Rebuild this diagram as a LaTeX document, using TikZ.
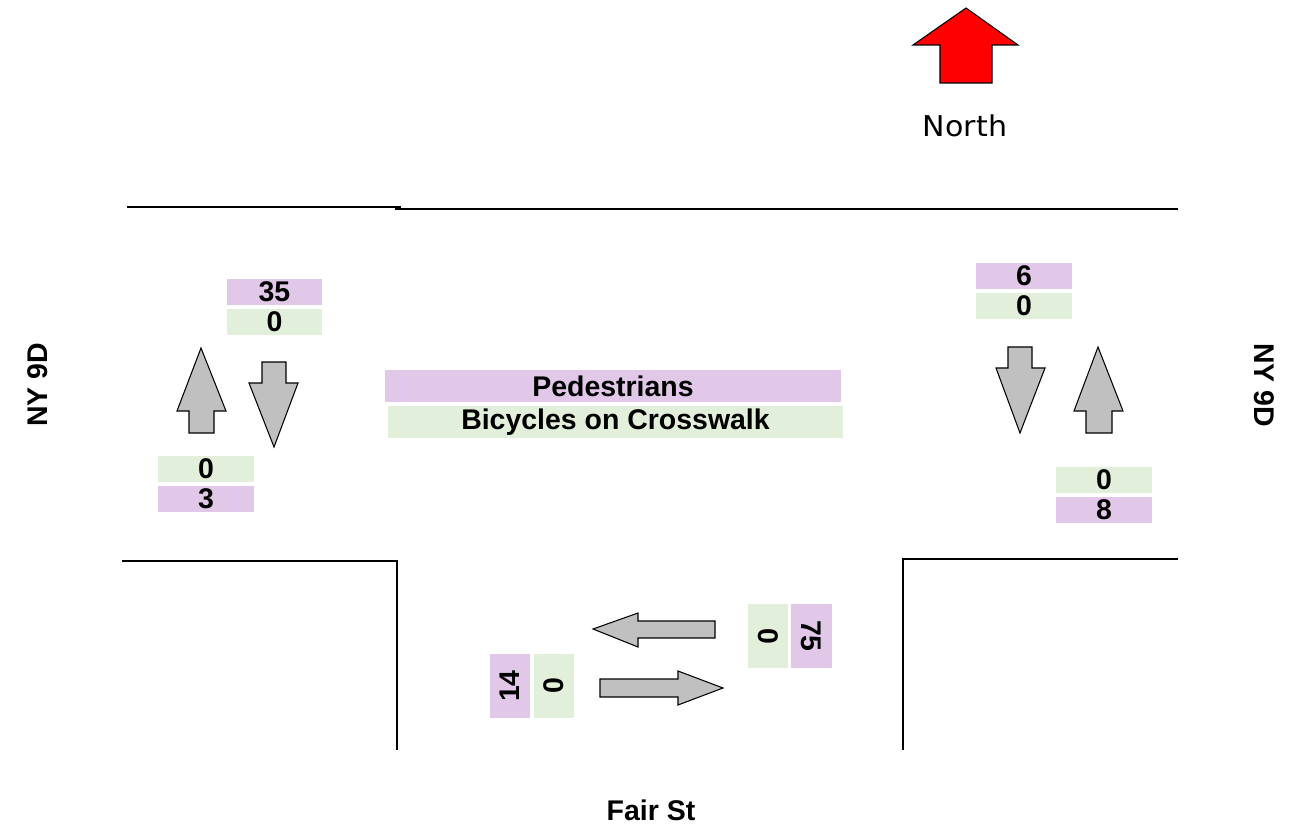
\documentclass[tikz,border=0pt]{standalone}
\usepackage{fontspec}
\setmainfont{Liberation Sans}
\newfontfamily\northfont[FakeStretch=1.05]{DejaVu Sans}
\usepackage{xcolor}
\usetikzlibrary{positioning}
\definecolor{pedpurple}{RGB}{225,200,233}
\definecolor{bikegreen}{RGB}{226,239,218}
\definecolor{flowgray}{RGB}{192,192,192}

\begin{document}
\begin{tikzpicture}[x=0.02cm,y=-0.02cm,
    road/.style={line width=1.2pt},
    count/.style={inner sep=0pt,minimum width=1.92cm,minimum height=0.52cm,
                  font=\fontsize{16.2}{18}\selectfont\bfseries},
    ped/.style={count,fill=pedpurple},
    bike/.style={count,fill=bikegreen},
    flow/.style={draw=black,fill=flowgray,line width=0.6pt,line join=miter},
    street/.style={font=\fontsize{16.2}{18}\selectfont\bfseries}]
    \useasboundingbox (0,0) rectangle (1291,834);

    % North arrow
    \draw[flow,fill=red] (966,8) -- (1018,45) -- (992,45) -- (992,83) -- (940,83)
        -- (940,45) -- (913,45) -- cycle;
    \node[font=\northfont\fontsize{16.3}{18}\selectfont] (north) at (965,126) {North};

    % Road edges
    \draw[road] (127,207) -- (401,207);
    \draw[road] (395,209) -- (1178,209);
    \draw[road] (122,561) -- (397,561) -- (397,750);
    \draw[road] (1178,559) -- (903,559) -- (903,750);

    % Street names
    \node[street,rotate=90] (nywest) at (38,385) {NY 9D};
    \node[street,rotate=-90] (nyeast) at (1264,385) {NY 9D};
    \node[street] (fair) at (651,810) {Fair St};

    % Legend
    \node[ped,minimum width=9.12cm,minimum height=0.64cm] (legped) at (613,386) {Pedestrians};
    \node[bike,minimum width=9.1cm,minimum height=0.64cm] (legbike) at (615.5,422) {Bicycles on Crosswalk};

    % West crossing
    \node[ped] (nwped) at (274.5,292) {35};
    \node[bike,below=0.06cm of nwped] (nwbike) {0};
    \node[bike] (swbike) at (206,469) {0};
    \node[ped,below=0.06cm of swbike] (swped) {3};
    \draw[flow] (201,348) -- (226,411) -- (214,411) -- (214,433) -- (189,433)
        -- (189,411) -- (177,411) -- cycle;
    \draw[flow] (262,362) -- (286,362) -- (286,383) -- (298,383) -- (274,447)
        -- (249,383) -- (262,383) -- cycle;

    % East crossing
    \node[ped] (neped) at (1024,276) {6};
    \node[bike,below=0.06cm of neped] (nebike) {0};
    \node[bike] (sebike) at (1104,480) {0};
    \node[ped,below=0.06cm of sebike] (seped) {8};
    \draw[flow] (1008,347) -- (1032,347) -- (1032,368) -- (1045,368) -- (1020,433)
        -- (996,368) -- (1008,368) -- cycle;
    \draw[flow] (1098,347) -- (1123,411) -- (1112,411) -- (1112,433) -- (1086,433)
        -- (1086,411) -- (1074,411) -- cycle;

    % South crossing
    \node[ped,rotate=-90,minimum width=1.28cm,minimum height=0.82cm] (sped) at (811.5,636) {75};
    \node[bike,rotate=-90,minimum width=1.28cm,minimum height=0.8cm] (sbike) at (768,636) {0};
    \node[ped,rotate=90,minimum width=1.28cm,minimum height=0.8cm] (wped) at (510,686) {14};
    \node[bike,rotate=90,minimum width=1.28cm,minimum height=0.8cm] (wbike) at (554,686) {0};
    \draw[flow] (593,629) -- (638,613) -- (638,621) -- (715,621) -- (715,638)
        -- (638,638) -- (638,647) -- cycle;
    \draw[flow] (600,679) -- (678,679) -- (678,671) -- (723,688) -- (678,705)
        -- (678,697) -- (600,697) -- cycle;
\end{tikzpicture}
\end{document}
